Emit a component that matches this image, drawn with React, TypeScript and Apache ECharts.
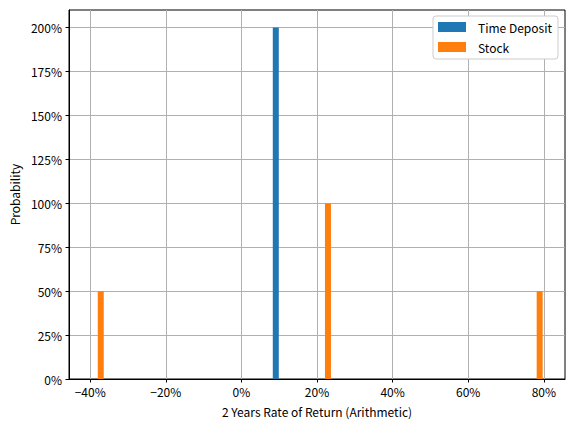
import React, { useEffect, useRef } from 'react';
import * as echarts from 'echarts';

// rate of return (%) and probability density (%)
const depositReturns = [9.1];
const depositProb = [200];
const stockReturns = [-37.2, 22.9, 78.9];
const stockProb = [50, 100, 50];
const xTicks = [-40, -20, 0, 20, 40, 60, 80];
const yTicks = [0, 25, 50, 75, 100, 125, 150, 175, 200];

const FONT = '"Noto Sans CJK SC", "Noto Sans", sans-serif';

const pct = (v: number) => (v < 0 ? '\u2212' + Math.abs(v) : String(v)) + '%';

const App = () => {
  const chartRef = useRef<HTMLDivElement>(null);

  useEffect(() => {
    document.body.style.margin = '0';
    if (!chartRef.current) return;
    const chart = echarts.init(chartRef.current, null, { renderer: 'svg' });

    const axisCommon = {
      axisLine: { show: true, onZero: false, lineStyle: { color: '#000', width: 1 } },
      axisTick: { show: true, length: 3.5, lineStyle: { color: '#000' } },
      splitLine: { show: true, lineStyle: { color: '#b0b0b0', width: 1 } },
      nameTextStyle: { fontFamily: FONT, fontSize: 12, color: '#000' },
    };

    chart.setOption({
      animation: false,
      grid: {
        left: 69,
        right: 10,
        top: 10,
        bottom: 51,
        show: true,
        borderColor: '#000',
        borderWidth: 1,
        backgroundColor: '#fff',
      },
      legend: {
        orient: 'vertical',
        right: 17,
        top: 16,
        padding: [4, 6, 5, 5],
        itemWidth: 28,
        itemHeight: 10,
        itemGap: 6,
        icon: 'rect',
        backgroundColor: '#fff',
        borderColor: '#cccccc',
        borderWidth: 1,
        borderRadius: 3,
        textStyle: {
          fontFamily: FONT,
          fontSize: 12,
          lineHeight: 14,
          color: '#000',
          padding: [0, 0, 0, 7],
        },
        data: ['Time Deposit', 'Stock'],
      },
      xAxis: {
        type: 'value',
        min: -45.6,
        max: 85.6,
        name: '2 Years Rate of Return (Arithmetic)',
        nameLocation: 'middle',
        nameGap: 26,
        ...axisCommon,
        axisTick: { ...axisCommon.axisTick, customValues: xTicks },
        axisLabel: {
          customValues: xTicks,
          formatter: pct,
          fontFamily: FONT,
          fontSize: 12,
          color: '#000',
          margin: 6,
        },
      },
      yAxis: {
        type: 'value',
        min: 0,
        max: 210,
        name: 'Probability',
        nameLocation: 'middle',
        nameGap: 49,
        ...axisCommon,
        axisTick: { ...axisCommon.axisTick, customValues: yTicks },
        axisLabel: {
          customValues: yTicks,
          formatter: pct,
          fontFamily: FONT,
          fontSize: 12,
          color: '#000',
          margin: 7,
        },
      },
      series: [
        {
          name: 'Time Deposit',
          type: 'bar',
          barWidth: 6,
          barGap: '-100%',
          itemStyle: { color: '#1f77b4' },
          data: depositReturns.map((x, i) => [x, depositProb[i]]),
        },
        {
          name: 'Stock',
          type: 'bar',
          barWidth: 6,
          barGap: '-100%',
          itemStyle: { color: '#ff7f0e' },
          data: stockReturns.map((x, i) => [x, stockProb[i]]),
        },
      ],
    });

    return () => {
      chart.dispose();
    };
  }, []);

  return <div ref={chartRef} style={{ width: 575, height: 430 }} />;
};

export default App;
